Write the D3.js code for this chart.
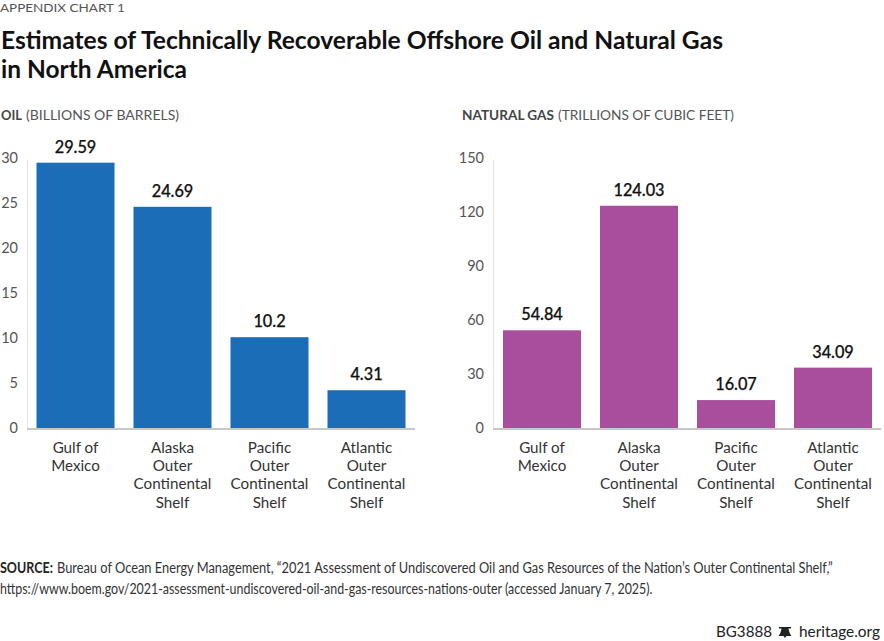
<!DOCTYPE html>
<html><head><meta charset="utf-8">
<script src="https://cdn.jsdelivr.net/npm/d3@7/dist/d3.min.js"></script>
<style>
html,body{margin:0;padding:0;background:#fff}
svg{display:block}
text{font-family:Lato,"Open Sans",sans-serif}
</style></head><body>
<svg id="c" width="884" height="641"></svg>
<script>
const categories = [["Gulf of","Mexico"],["Alaska","Outer","Continental","Shelf"],["Pacific","Outer","Continental","Shelf"],["Atlantic","Outer","Continental","Shelf"]];
const oilValues = [29.59,24.69,10.2,4.31];
const gasValues = [54.84,124.03,16.07,34.09];
const oilLabels = ["29.59","24.69","10.2","4.31"];
const gasLabels = ["54.84","124.03","16.07","34.09"];
const oilTicks = [0,5,10,15,20,25,30];
const gasTicks = [0,30,60,90,120,150];
const titleLines = ["Estimates of Technically Recoverable Offshore Oil and Natural Gas","in North America"];
const sourceRest = "Bureau of Ocean Energy Management, “2021 Assessment of Undiscovered Oil and Gas Resources of the Nation’s Outer Continental Shelf,”";
const sourceLine2 = "https://www.boem.gov/2021-assessment-undiscovered-oil-and-gas-resources-nations-outer (accessed January 7, 2025).";

const svg = d3.select("#c");
const fit = (sel,w)=>sel.attr("textLength",w).attr("lengthAdjust","spacingAndGlyphs");
// squeeze a text to an exact width with a transform, so its box stays inside the page
const squeeze = (sel,x,y,w)=>{
  const n=sel.node().getComputedTextLength();
  sel.attr("transform",`translate(${x},${y}) scale(${w/n},1)`);
};
const narrow = '"Liberation Sans Narrow",Lato,sans-serif';

svg.append("text").attr("font-size",11.5).attr("fill","#555").text("APPENDIX CHART 1").call(squeeze,0,12,125);
titleLines.forEach((t,i)=>{
  svg.append("text").attr("x",1).attr("y",[49,78][i]).attr("font-size",24).attr("font-weight",700).attr("fill","#111").text(t).call(fit,[722,186][i]);
});

function panel(x0,x1,bar0,domain,ticks,values,labels,color,head,sub,headX,headW,subW){
  const y=d3.scaleLinear().domain(domain).range([429,159]);
  const x=d3.scaleBand().domain(d3.range(values.length)).range([bar0-9.5,bar0-9.5+388]).paddingInner(19/97).paddingOuter(9.5/97);
  const g=svg.append("g");
  svg.append("text").attr("x",headX).attr("y",120).attr("font-size",13.5).attr("font-weight",700).attr("fill","#444").text(head).call(fit,headW);
  svg.append("text").attr("x",headX+headW+4).attr("y",120).attr("font-size",13.5).attr("fill","#555").text(sub).call(fit,subW);
  const ax=g.append("g").attr("transform",`translate(${x0},0)`).call(d3.axisLeft(y).tickValues(ticks).tickSize(0).tickPadding(9));
  ax.select(".domain").attr("stroke","#e2e2e2").attr("stroke-width",1);
  ax.selectAll("text").attr("font-size",14.5).attr("fill","#555").attr("dy","0.25em").style("font-family","Lato,sans-serif");
  g.selectAll("rect").data(values).join("rect")
    .attr("x",(d,i)=>x(i)).attr("width",x.bandwidth())
    .attr("y",d=>y(d)).attr("height",d=>y(0)-y(d)).attr("fill",color);
  g.append("line").attr("x1",x0).attr("x2",x1).attr("y1",429).attr("y2",429).attr("stroke","#c8c8c8").attr("stroke-width",2);
  g.selectAll("text.v").data(values).join("text").attr("class","v")
    .attr("x",(d,i)=>x(i)+x.bandwidth()/2).attr("y",d=>y(d)-10).attr("text-anchor","middle")
    .attr("font-size",16.3).attr("font-weight",500).attr("fill","#111").attr("stroke","#111").attr("stroke-width",0.25).text((d,i)=>labels[i]);
  categories.forEach((c,i)=>{
    c.forEach((l,j)=>{
      g.append("text").attr("x",x(i)+x.bandwidth()/2).attr("y",453+j*18.2).attr("text-anchor","middle")
       .attr("font-size",15.2).attr("fill","#333").text(l);
    });
  });
}
panel(27,415,36.5,[0,30],oilTicks,oilValues,oilLabels,"#1c6db7","OIL","(BILLIONS OF BARRELS)",1,21,153);
panel(493,881,503,[0,150],gasTicks,gasValues,gasLabels,"#a84e9c","NATURAL GAS","(TRILLIONS OF CUBIC FEET)",462,92,176);

svg.append("text").attr("font-size",14.5).attr("font-weight",700).attr("fill","#222").style("font-family",narrow).text("SOURCE:").call(squeeze,0,573,53);
svg.append("text").attr("font-size",14.5).attr("fill","#333").style("font-family",narrow).text(sourceRest).call(squeeze,57,573,776);
svg.append("text").attr("font-size",14.5).attr("fill","#333").style("font-family",narrow).text(sourceLine2).call(squeeze,0,594,653);
svg.append("text").attr("x",716).attr("y",637).attr("font-size",16).attr("fill","#222").text("BG3888").call(fit,56);
svg.append("path").attr("transform","translate(785,632)")
  .attr("d","M-6,-5 H6 V-3.5 H3.5 C4,0 5,2 6.5,4 H1.5 L0,6 L-1.5,4 H-6.5 C-5,2 -4,0 -3.5,-3.5 H-6 Z").attr("fill","#222");
svg.append("text").attr("x",799).attr("y",637).attr("font-size",16).attr("fill","#222").text("heritage.org").call(fit,81);
</script></body></html>
